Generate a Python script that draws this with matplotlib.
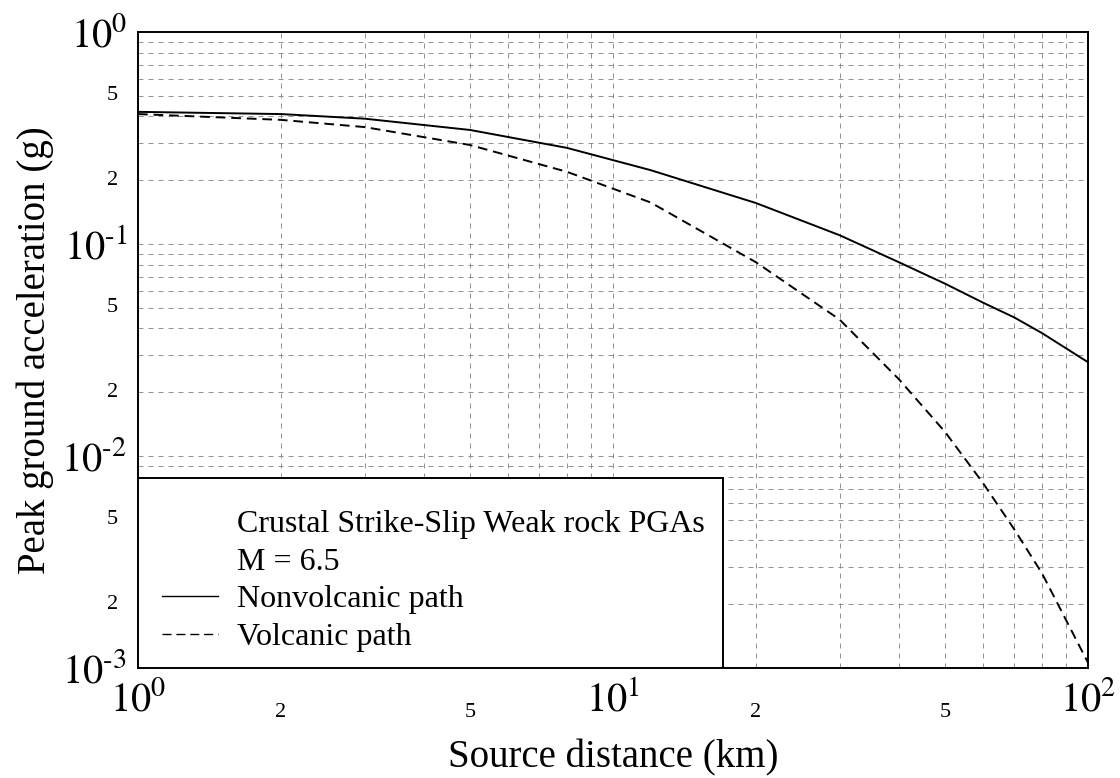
import matplotlib
matplotlib.use('Agg')
import matplotlib.pyplot as plt
from matplotlib.lines import Line2D
from matplotlib.patches import Rectangle
from matplotlib.ticker import LogLocator, FixedLocator, FixedFormatter

plt.rcParams['font.family'] = ['Liberation Serif', 'DejaVu Serif']
plt.rcParams['mathtext.fontset'] = 'stix'

# values (source distance km, PGA g)
dist = [1, 2, 3, 5, 8, 12, 20, 30, 40, 50, 60, 70, 80, 100]
pga_nonvolc = [0.42, 0.41, 0.39, 0.345, 0.284, 0.223, 0.156, 0.110, 0.082, 0.065, 0.053, 0.045, 0.038, 0.0277]
pga_volc = [0.41, 0.385, 0.356, 0.293, 0.219, 0.157, 0.082, 0.044, 0.023, 0.013, 0.0075, 0.0045, 0.0028, 0.00106]

legend_title = ['Crustal Strike-Slip Weak rock PGAs', 'M = 6.5']
series_labels = ['Nonvolcanic path', 'Volcanic path']

x_major_lbl = [r'$10^0$', r'$10^1$', r'$10^2$']
y_major_lbl = [r'$10^{\text{-3}}$', r'$10^{\text{-2}}$', r'$10^{\text{-1}}$', r'$10^0$']
x_minor = [2, 5, 20, 50]
x_minor_lbl = ['2', '5', '2', '5']
y_minor = [0.002, 0.005, 0.02, 0.05, 0.2, 0.5]
y_minor_lbl = ['2', '5', '2', '5', '2', '5']

fig = plt.figure(figsize=(11.2, 7.78), dpi=100)
ax = fig.add_axes([0.1232, 0.1414, 0.8482, 0.8175])
ax.set_xscale('log')
ax.set_yscale('log')
ax.set_xlim(1, 100)
ax.set_ylim(1e-3, 1)

ax.plot(dist, pga_nonvolc, color='black', lw=1.4, zorder=3)
ax.plot(dist, pga_volc, color='black', lw=1.4, dashes=(5, 3), zorder=3)

ax.xaxis.set_major_locator(FixedLocator([1, 10, 100]))
ax.yaxis.set_major_locator(FixedLocator([1e-3, 1e-2, 1e-1, 1]))
ax.xaxis.set_major_formatter(FixedFormatter(x_major_lbl))
ax.yaxis.set_major_formatter(FixedFormatter(y_major_lbl))
ax.xaxis.set_minor_locator(LogLocator(base=10, subs=range(2, 10)))
ax.yaxis.set_minor_locator(LogLocator(base=10, subs=range(2, 10)))
ax.grid(True, which='both', color='0.5', lw=0.6, linestyle=(0, (6, 6)))
ax.tick_params(which='both', length=0)
ax.tick_params(which='major', labelsize=29)
ax.tick_params(axis='x', which='major', pad=10)
ax.tick_params(axis='y', which='major', pad=8)

# minor labels only at 2 and 5
for xv, lbl in zip(x_minor, x_minor_lbl):
    ax.text(xv, -0.055, lbl, transform=ax.get_xaxis_transform(), ha='center', va='top', fontsize=16)
for yv, lbl in zip(y_minor, y_minor_lbl):
    ax.text(-0.021, yv, lbl, transform=ax.get_yaxis_transform(), ha='right', va='center', fontsize=16)

for s in ax.spines.values():
    s.set_linewidth(1.4)

ax.set_xlabel('Source distance (km)', fontsize=28, labelpad=14)
ax.set_ylabel('Peak ground acceleration (g)', fontsize=28)
ax.yaxis.set_label_coords(-0.088, 0.5)

# legend box
ax.add_patch(Rectangle((0, 0), 0.616, 0.299, transform=ax.transAxes, facecolor='white',
                       edgecolor='black', lw=1.4, zorder=4))
handles = [Line2D([], [], color='none'), Line2D([], [], color='none'),
           Line2D([], [], color='black', lw=1.0),
           Line2D([], [], color='black', lw=1.0, dashes=(6.5, 3.5))]
leg = ax.legend(handles, legend_title + series_labels, loc='lower left',
                bbox_to_anchor=(0.002, -0.01), frameon=False, fontsize=23, borderpad=0.2,
                handlelength=1.75, handletextpad=0.6, labelspacing=0.26)
leg.set_zorder(5)

fig.savefig('out.png', dpi=100)
